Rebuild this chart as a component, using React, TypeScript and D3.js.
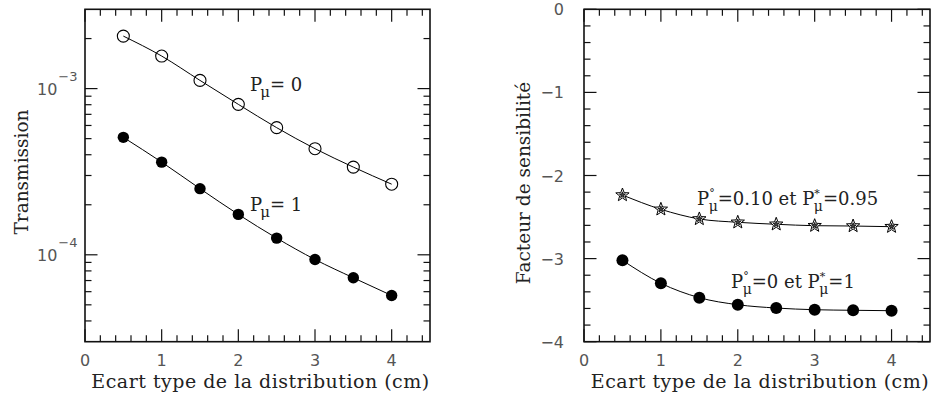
import React from "react";
import * as d3 from "d3";

// ---- Data ----
const sigma = [0.5, 1.0, 1.5, 2.0, 2.5, 3.0, 3.5, 4.0];
const transP0 = [2.07e-3, 1.57e-3, 1.12e-3, 8.04e-4, 5.82e-4, 4.35e-4, 3.37e-4, 2.66e-4];
const transP1 = [5.09e-4, 3.61e-4, 2.5e-4, 1.75e-4, 1.26e-4, 9.37e-5, 7.27e-5, 5.69e-5];
const sensStar = [-2.235, -2.407, -2.523, -2.563, -2.587, -2.604, -2.608, -2.616];
const sensDot = [-3.021, -3.297, -3.47, -3.555, -3.595, -3.615, -3.622, -3.627];

const xMajorTicks = [0, 1, 2, 3, 4];
const xMinorTicks = [0.2, 0.4, 0.6, 0.8, 1.2, 1.4, 1.6, 1.8, 2.2, 2.4, 2.6, 2.8, 3.2, 3.4, 3.6, 3.8, 4.2, 4.4];
const logMajorTicks = [1e-4, 1e-3];
const logMajorLabels = ["−4", "−3"];
const logMinorTicks = [4e-5, 5e-5, 6e-5, 7e-5, 8e-5, 9e-5, 2e-4, 3e-4, 4e-4, 5e-4, 6e-4, 7e-4, 8e-4, 9e-4, 2e-3];
const linMajorTicks = [0, -1, -2, -3, -4];
const linMajorLabels = ["0", "−1", "−2", "−3", "−4"];
const linMinorTicks = d3.range(-3.8, 0, 0.2).filter((v) => Math.abs(v - Math.round(v)) > 0.05);

const xTitle = "Ecart type de la distribution (cm)";
const yTitleLeft = "Transmission";
const yTitleRight = "Facteur de sensibilité";

const W = 933;
const H = 401;
const TOP = 9.3;
const BOTTOM = 341.7;

const serif = "'DejaVu Serif', serif";
const sans = "'DejaVu Sans', sans-serif";

function Frame({ x, y, yMajor, yMinor }: any) {
  const [x0, x1] = x.range();
  const MAJ = 12.5;
  const MIN = 6.5;
  const lines: any[] = [];
  xMajorTicks.forEach((t, i) => {
    const px = x(t);
    lines.push(<line key={"xb" + i} x1={px} x2={px} y1={BOTTOM} y2={BOTTOM - MAJ} />);
    lines.push(<line key={"xt" + i} x1={px} x2={px} y1={TOP} y2={TOP + MAJ} />);
  });
  xMinorTicks.forEach((t, i) => {
    const px = x(t);
    lines.push(<line key={"xbm" + i} x1={px} x2={px} y1={BOTTOM} y2={BOTTOM - MIN} />);
    lines.push(<line key={"xtm" + i} x1={px} x2={px} y1={TOP} y2={TOP + MIN} />);
  });
  yMajor.forEach((t: number, i: number) => {
    const py = y(t);
    lines.push(<line key={"yl" + i} x1={x0} x2={x0 + MAJ} y1={py} y2={py} />);
    lines.push(<line key={"yr" + i} x1={x1} x2={x1 - MAJ} y1={py} y2={py} />);
  });
  yMinor.forEach((t: number, i: number) => {
    const py = y(t);
    lines.push(<line key={"ylm" + i} x1={x0} x2={x0 + MIN} y1={py} y2={py} />);
    lines.push(<line key={"yrm" + i} x1={x1} x2={x1 - MIN} y1={py} y2={py} />);
  });
  return (
    <g stroke="#111" strokeWidth={1.2} fill="none">
      <rect x={x0} y={TOP} width={x1 - x0} height={BOTTOM - TOP} strokeWidth={1.6} />
      {lines}
    </g>
  );
}

function XLabels({ x }: any) {
  return (
    <g>
      {xMajorTicks.map((t) => (
        <text key={t} x={x(t)} y={366} textAnchor="middle" fontFamily={sans} fontSize={16} fill="#555">
          {String(t)}
        </text>
      ))}
      <text
        x={(x.range()[0] + x.range()[1]) / 2 + 3}
        y={388}
        textAnchor="middle"
        fontFamily={serif}
        fontSize={19}
        letterSpacing={0.5}
        fill="#222"
      >
        {xTitle}
      </text>
    </g>
  );
}

function starPath(r: number) {
  const pts: string[] = [];
  for (let i = 0; i < 10; i++) {
    const a = -Math.PI / 2 + (i * Math.PI) / 5;
    const rr = i % 2 === 0 ? r : r * 0.42;
    pts.push(`${(rr * Math.cos(a)).toFixed(2)},${(rr * Math.sin(a)).toFixed(2)}`);
  }
  return "M" + pts.join("L") + "Z";
}

function PLabel({ x, y, text1, text2 }: any) {
  return (
    <text x={x} y={y} fontFamily={serif} fontSize={18} fill="#222">
      P
      <tspan dy={-8} fontSize={11}>°</tspan>
      <tspan dx={-6} dy={14} fontSize={14}>μ</tspan>
      <tspan dy={-6}>{text1}</tspan>
      {text2 !== undefined && (
        <>
          <tspan dy={-8} fontSize={11}>*</tspan>
          <tspan dx={-6} dy={14} fontSize={14}>μ</tspan>
          <tspan dy={-6}>{text2}</tspan>
        </>
      )}
    </text>
  );
}

export default function App() {
  // Left panel
  const xL = d3.scaleLinear().domain([0, 4.5]).range([85, 430]);
  const yL = d3.scaleLog().domain([3e-5, 3e-3]).range([BOTTOM, TOP]);
  // Right panel
  const xR = d3.scaleLinear().domain([0, 4.5]).range([584, 930]);
  const yR = d3.scaleLinear().domain([-4, 0]).range([BOTTOM, TOP]);

  const lineL = d3
    .line<number>()
    .x((_, i) => xL(sigma[i]))
    .y((d) => yL(d))
    .curve(d3.curveMonotoneX);
  const lineR = d3
    .line<number>()
    .x((_, i) => xR(sigma[i]))
    .y((d) => yR(d))
    .curve(d3.curveMonotoneX);

  const outerStar = starPath(7);
  const innerStar = starPath(3.2);

  return (
    <svg
      width={W}
      height={H}
      viewBox={`0 0 ${W} ${H}`}
      style={{ position: "absolute", left: 0, top: 0, background: "#fff" }}
    >
      <rect x={0} y={0} width={W} height={H} fill="#fff" />

      {/* ---------- Left panel ---------- */}
      <Frame x={xL} y={yL} yMajor={logMajorTicks} yMinor={logMinorTicks} />
      <XLabels x={xL} />
      {logMajorTicks.map((t, i) => (
        <text key={t} x={37} y={yL(t) + 6.5} fontFamily={sans} fontSize={16} fill="#555">
          10
          <tspan dy={-14} dx={1} fontSize={13}>
            {logMajorLabels[i]}
          </tspan>
        </text>
      ))}
      <text
        transform={`translate(28,172) rotate(-90)`}
        textAnchor="middle"
        fontFamily={serif}
        fontSize={18.5}
        fill="#222"
      >
        {yTitleLeft}
      </text>
      <path d={lineL(transP0) || ""} fill="none" stroke="#000" strokeWidth={1} />
      <path d={lineL(transP1) || ""} fill="none" stroke="#000" strokeWidth={1} />
      {transP0.map((v, i) => (
        <circle key={"o" + i} cx={xL(sigma[i])} cy={yL(v)} r={6} fill="none" stroke="#000" strokeWidth={1.1} />
      ))}
      {transP1.map((v, i) => (
        <circle key={"f" + i} cx={xL(sigma[i])} cy={yL(v)} r={5.7} fill="#000" />
      ))}
      <text x={250} y={91} fontFamily={serif} fontSize={18} fill="#222">
        P
        <tspan dx={-2} dy={6} fontSize={15}>
          μ
        </tspan>
        <tspan dy={-6}>= 0</tspan>
      </text>
      <text x={250} y={211} fontFamily={serif} fontSize={18} fill="#222">
        P
        <tspan dx={-2} dy={6} fontSize={15}>
          μ
        </tspan>
        <tspan dy={-6}>= 1</tspan>
      </text>

      {/* ---------- Right panel ---------- */}
      <Frame x={xR} y={yR} yMajor={linMajorTicks} yMinor={linMinorTicks} />
      <XLabels x={xR} />
      {linMajorTicks.map((t, i) => (
        <text key={t} x={564} y={yR(t) + 6} textAnchor="end" fontFamily={sans} fontSize={16} fill="#555">
          {linMajorLabels[i]}
        </text>
      ))}
      <text
        transform={`translate(530,183) rotate(-90)`}
        textAnchor="middle"
        fontFamily={serif}
        fontSize={18.5}
        fill="#222"
      >
        {yTitleRight}
      </text>
      <path d={lineR(sensStar) || ""} fill="none" stroke="#000" strokeWidth={1} />
      <path d={lineR(sensDot) || ""} fill="none" stroke="#000" strokeWidth={1} />
      {sensStar.map((v, i) => (
        <g key={"s" + i} transform={`translate(${xR(sigma[i])},${yR(v)})`}>
          <path d={outerStar} fill="#fff" stroke="#000" strokeWidth={1} />
          <path d={innerStar} fill="#444" stroke="#000" strokeWidth={0.8} />
        </g>
      ))}
      {sensDot.map((v, i) => (
        <circle key={"d" + i} cx={xR(sigma[i])} cy={yR(v)} r={6} fill="#000" />
      ))}
      <PLabel x={697} y={205} text1="=0.10 et P" text2="=0.95" />
      <PLabel x={731} y={288} text1="=0 et P" text2="=1" />
    </svg>
  );
}
